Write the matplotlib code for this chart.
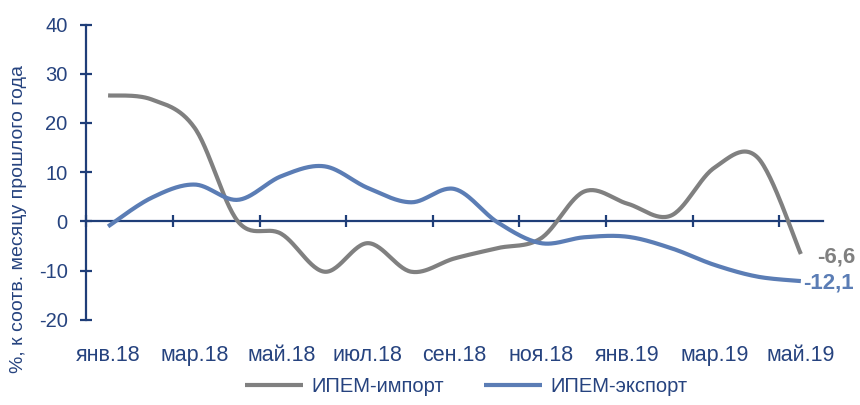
import numpy as np
import matplotlib
matplotlib.use("Agg")
import matplotlib.pyplot as plt

months = ["янв.18", "фев.18", "мар.18", "апр.18", "май.18", "июн.18", "июл.18",
          "авг.18", "сен.18", "окт.18", "ноя.18", "дек.18", "янв.19", "фев.19",
          "мар.19", "апр.19", "май.19"]
import_vals = [25.6, 24.8, 19.0, 0.0, -2.5, -10.2, -4.4, -10.2, -7.5, -5.4, -3.4,
               6.1, 3.6, 1.2, 10.9, 13.0, -6.6]
export_vals = [-1.0, 4.8, 7.5, 4.4, 9.2, 11.2, 6.8, 3.9, 6.6, -0.2, -4.4,
               -3.2, -3.1, -5.4, -8.8, -11.2, -12.1]
series_names = ["ИПЕМ-импорт", "ИПЕМ-экспорт"]
yticks = [-20, -10, 0, 10, 20, 30, 40]
ylabel = "%, к соотв. месяцу прошлого года"

GRAY = "#808080"
BLUE = "#5B7DB5"
NAVY = "#1F3E78"
TXT = "#26437F"

FONT = ["Liberation Sans", "DejaVu Sans"]


def smooth(y, n=30):
    """Catmull-Rom (Excel-like smoothed line) through the points."""
    y = np.asarray(y, float)
    x = np.arange(len(y), dtype=float)
    P = np.column_stack([x, y])
    P = np.vstack([P[0], P, P[-1]])
    out = []
    t = np.linspace(0, 1, n, endpoint=False)[:, None]
    for i in range(1, len(P) - 2):
        p0, p1, p2, p3 = P[i - 1], P[i], P[i + 1], P[i + 2]
        c1 = p1 + (p2 - p0) / 6
        c2 = p2 - (p3 - p1) / 6
        b = ((1 - t) ** 3) * p1 + 3 * ((1 - t) ** 2) * t * c1 + 3 * (1 - t) * t ** 2 * c2 + t ** 3 * p2
        out.append(b)
    out.append(P[-2][None, :])
    out = np.vstack(out)
    return out[:, 0], out[:, 1]


fig = plt.figure(figsize=(8.6, 4.05), dpi=100)
ax = fig.add_axes([0.1005, 0.2099, 0.8559, 0.7296])

xi, yi = smooth(import_vals)
xe, ye = smooth(export_vals)
ax.plot(xi, yi, color=GRAY, lw=3, solid_capstyle="butt", label=series_names[0])
ax.plot(xe, ye, color=BLUE, lw=3, solid_capstyle="butt", label=series_names[1])

ax.set_xlim(-0.5, len(months) - 0.5)
ax.set_ylim(-20, 40)

for s in ["top", "right", "bottom"]:
    ax.spines[s].set_visible(False)
ax.spines["left"].set_color(NAVY)
ax.spines["left"].set_linewidth(1.6)

ax.set_yticks(yticks)
ax.set_yticklabels([str(v) for v in yticks], fontfamily=FONT, fontsize=14.5, color=TXT)
ax.tick_params(axis="y", direction="inout", length=9, width=1.6, color=NAVY, pad=9)

# category labels (every second month) at bottom
ax.set_xticks(range(0, len(months), 2))
ax.set_xticklabels(months[::2], fontfamily=FONT, fontsize=15.5, color=TXT)
ax.tick_params(axis="x", length=0, pad=18)

# zero-line axis with boundary ticks
sec = ax.secondary_xaxis(20 / 60)
sec.spines["bottom"].set_color(NAVY)
sec.spines["bottom"].set_linewidth(1.6)
sec.set_xticks(np.arange(-0.5, len(months) - 0.5, 2))
sec.set_xticklabels([])
sec.tick_params(axis="x", direction="inout", length=9, width=1.6, color=NAVY)

fig.text(0.022, 0.46, ylabel, rotation=90, ha="center", va="center",
         fontfamily=FONT, fontsize=14, color=TXT)

# end labels
ax.annotate(f"{import_vals[-1]:.1f}".replace(".", ","), (len(months) - 1, import_vals[-1]),
            xytext=(12, -2), textcoords="offset points", ha="left", va="center",
            fontfamily=FONT, fontsize=16, fontweight="bold", color=GRAY)
ax.annotate(f"{export_vals[-1]:.1f}".replace(".", ","), (len(months) - 1, export_vals[-1]),
            xytext=(1.5, -1.5), textcoords="offset points", ha="left", va="center",
            fontfamily=FONT, fontsize=16, fontweight="bold", color=BLUE)

leg = fig.legend(loc="center", bbox_to_anchor=(0.542, 0.045), ncol=2, frameon=False,
                 prop={"family": FONT, "size": 14.5}, handlelength=2.9,
                 handletextpad=0.4, columnspacing=2.0)
for t in leg.get_texts():
    t.set_color(TXT)

fig.savefig("out.png", dpi=100)
